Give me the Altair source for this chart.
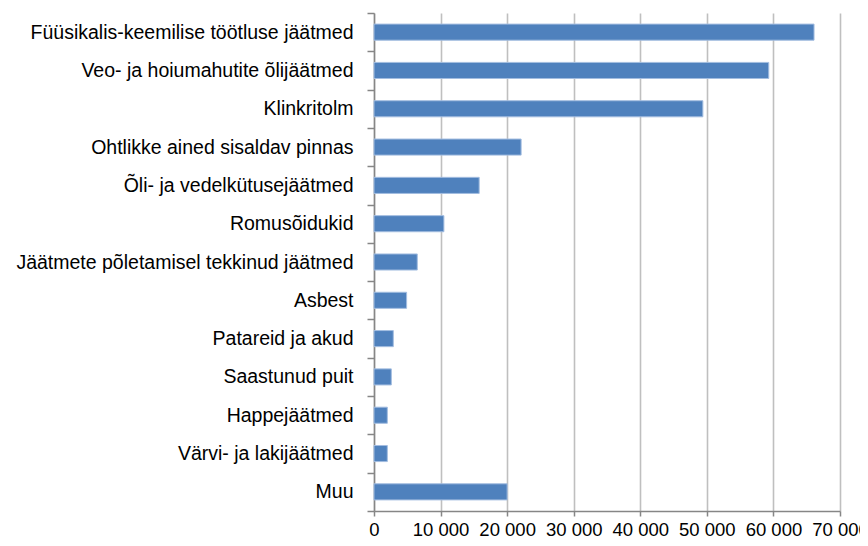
import altair as alt
import pandas as pd

categories = [
    "Füüsikalis-keemilise töötluse jäätmed",
    "Veo- ja hoiumahutite õlijäätmed",
    "Klinkritolm",
    "Ohtlikke ained sisaldav pinnas",
    "Õli- ja vedelkütusejäätmed",
    "Romusõidukid",
    "Jäätmete põletamisel tekkinud jäätmed",
    "Asbest",
    "Patareid ja akud",
    "Saastunud puit",
    "Happejäätmed",
    "Värvi- ja lakijäätmed",
    "Muu",
]
values = [66100, 59300, 49400, 22100, 15800, 10500, 6500, 4900, 2900, 2600, 2000, 2000, 20000]
tick_values = [0, 10000, 20000, 30000, 40000, 50000, 60000, 70000]

df = pd.DataFrame({"category": categories, "value": values})

FONT = "Liberation Sans"

chart = (
    alt.Chart(df)
    .mark_bar(color="#4f81bd", stroke="#a3bde0", strokeWidth=1,
              height=alt.RelativeBandSize(0.42))
    .encode(
        x=alt.X(
            "value:Q",
            scale=alt.Scale(domain=[0, 70000], nice=False),
            axis=alt.Axis(
                title=None,
                values=tick_values,
                labelExpr="replace(format(datum.value, ','), ',', ' ')",
                grid=True,
                gridColor="#bfbfbf",
                gridWidth=1.6,
                domainColor="#868686",
                domainWidth=1.5,
                tickColor="#868686",
                tickWidth=1.5,
                tickSize=5,
                labelPadding=4,
                labelFont=FONT,
                labelFontSize=18.5,
                labelColor="#000000",
                labelFlush=False,
                labelOverlap=False,
            ),
        ),
        y=alt.Y(
            "category:N",
            sort=categories,
            scale=alt.Scale(paddingInner=0, paddingOuter=0),
            axis=alt.Axis(
                title=None,
                tickBand="extent",
                domain=True,
                domainColor="#868686",
                domainWidth=1.5,
                tickColor="#868686",
                tickWidth=1.5,
                tickSize=7,
                labelPadding=14,
                labelFont=FONT,
                labelFontSize=19.5,
                labelColor="#000000",
                labelLimit=400,
                grid=False,
            ),
        ),
    )
    .properties(
        width=466,
        height=498,
        autosize=alt.AutoSizeParams(type="none"),
        padding={"left": 366, "top": 5, "right": 20, "bottom": 27},
    )
    .configure_view(stroke=None)
)

chart.save("out.html", embed_options={"renderer": "svg", "actions": False})
